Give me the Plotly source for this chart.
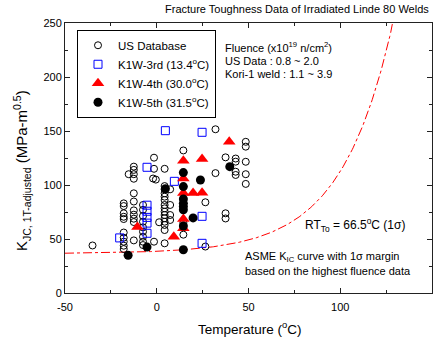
import numpy as np
import plotly.graph_objects as go

# ---- data ----
us_T = [-35,
        -18, -18, -18, -18, -18, -18, -18, -18, -18, -18,
        -15.3,
        -12.5, -12.5, -12.5, -12.5, -12.5, -12.5, -12.5, -12.5, -12.5, -12.5, -12.5,
        -7.5, -7.5, -7.5, -7.5, -7.5, -7.5, -7.5, -7.5, -7.5,
        -1.5, -1.5, -2, -0.5, -1.5, 1.3,
        4.3, 4.3, 4.3, 4.3, 4.3, 4.3, 4.3, 4.3, 4.3, 4.3, 4.3, 4.3, 4.3, 4.3, 4.3, 4.3,
        7.3, 7.3, 7.3, 7.3,
        14.5, 14.5, 14.5,
        26.5, 26.5,
        32, 32,
        37.5, 37.5, 37.5,
        43, 43, 43, 43,
        48.5, 48.5, 48.5, 48.5, 48.5]
us_K = [44,
        83, 80.5, 73.8, 70.6, 68.5, 56, 51.2, 47.5, 43.8, 40.7,
        110,
        117, 114, 110, 105.8, 92.3, 84.7, 76.5, 72.5, 68.8, 65.7, 48.7,
        81.5, 77, 71.3, 66, 60.8, 56.8, 52.1, 47.5, 44.4,
        125.3, 115, 106, 105, 47.5, 65.5,
        171, 115, 99, 96, 92.3, 89.2, 86.1, 81.5, 78.4, 75.3, 72.2, 69.2, 66, 63, 58.3, 46,
        96, 81.5, 72.2, 67.6,
        132, 65, 54,
        84, 43,
        151.6, 111,
        125.6, 73.8, 69,
        124.5, 121.6, 112.3, 109.3,
        140, 135.5, 121.5, 110, 101]

k3_T = [-20.2, -5.3, -5.3, -5.3, -5.3, -5.3, -5.3, 4.7, 9.6, 24.7, 24.7, 24.7]
k3_K = [51, 116.4, 81.3, 75.7, 70, 64.7, 55.3, 150.3, 103.4, 148.8, 71, 46]

k4_T = [-10.5, 9.3, 14.5, 14.5, 14.5, 14.5, 14.5, 19.8, 24.7, 24.7, 39.5]
k4_K = [61, 52, 122.5, 106, 92.5, 68.5, 60, 92.5, 92.9, 124, 140]

k5_T = [-15.6, -5.3, 4.7, 14.5, 14.5, 14.5, 14.5, 14.5, 14.5, 14.5, 14.5, 19.8, 23.8, 39.8]
k5_K = [35, 42.5, 96.5, 111.5, 98.5, 87, 83, 80, 77, 62, 40, 69.5, 104.6, 117]

# ASME K_Ic curve indexed to RT_To
RT_TO = 66.5
curve_T = np.linspace(-50, 150, 401)
curve_K = 36.5 + 22.783 * np.exp(0.036 * (curve_T - RT_TO))

x_ticks = [-50, 0, 50, 100, 150]
y_ticks = [0, 50, 100, 150, 200, 250]

FONT = "Liberation Sans, Arial, sans-serif"

fig = go.Figure()
fig.add_trace(go.Scatter(x=curve_T, y=curve_K, mode="lines",
                         line=dict(color="red", width=1, dash="dashdot"),
                         showlegend=False, hoverinfo="skip"))
fig.add_trace(go.Scatter(x=us_T, y=us_K, mode="markers", name="US Database",
                         marker=dict(symbol="circle-open", size=7, color="black",
                                     line=dict(width=1, color="black"))))
fig.add_trace(go.Scatter(x=k3_T, y=k3_K, mode="markers", name="K1W-3rd (13.4<sup>o</sup>C)",
                         marker=dict(symbol="square-open", size=8, color="blue",
                                     line=dict(width=1, color="blue"))))
fig.add_trace(go.Scatter(x=k4_T, y=k4_K, mode="markers", name="K1W-4th (30.0<sup>o</sup>C)",
                         marker=dict(symbol="triangle-up", size=11, color="red")))
fig.add_trace(go.Scatter(x=k5_T, y=k5_K, mode="markers", name="K1W-5th (31.5<sup>o</sup>C)",
                         marker=dict(symbol="circle", size=9, color="black")))

axis_common = dict(showgrid=False, zeroline=False, showline=True, linecolor="#222",
                   linewidth=1, mirror="allticks", ticks="inside", ticklen=5,
                   automargin=False,
                   tickcolor="#222", tickfont=dict(family=FONT, size=11, color="black"))

fig.update_xaxes(range=[-50, 150], tickvals=x_ticks, ticktext=[str(v) for v in x_ticks],
                 minor=dict(dtick=25, ticks="inside", ticklen=3, tickcolor="#222"),
                 ticklabelstandoff=4,
                 **axis_common)
fig.update_yaxes(range=[0, 250], tickvals=y_ticks, ticktext=[str(v) for v in y_ticks],
                 minor=dict(dtick=25, ticks="inside", ticklen=3, tickcolor="#222"),
                 **axis_common)

ann = []
def add(text, x, y, size, xanchor="left", yanchor="middle", angle=0):
    ann.append(dict(text=text, x=x, y=y, xref="paper", yref="paper", showarrow=False,
                    xanchor=xanchor, yanchor=yanchor, textangle=angle,
                    font=dict(family=FONT, size=size, color="black")))

add("Fracture Toughness Data of Irradiated Linde 80 Welds", 0.997, 1.052, 11, xanchor="right")
add("Fluence (x10<sup>19</sup> n/cm<sup>2</sup>)", 0.4297, 0.911, 11)
add("US Data : 0.8 ~ 2.0", 0.4297, 0.859, 11)
add("Kori-1 weld : 1.1 ~ 3.9", 0.4297, 0.811, 11)
add("RT<sub>To</sub> = 66.5<sup>o</sup>C (1σ)", 0.6477, 0.252, 12)
add("ASME K<sub>IC</sub> curve with 1σ margin", 0.4858, 0.134, 11)
add("based on the highest fluence data", 0.4858, 0.083, 11)
add("Temperature (<sup>o</sup>C)", 0.504, -0.13, 13.5, xanchor="center")
add("K<sub>JC, 1T-adjusted</sub> (MPa-m<sup>0.5</sup>)", -0.117, 0.452, 15,
    xanchor="center", angle=-90)

fig.update_layout(
    width=440, height=342,
    margin=dict(l=65, r=8, t=23, b=49),
    paper_bgcolor="white", plot_bgcolor="white",
    font=dict(family=FONT, size=11, color="black"),
    annotations=ann,
    legend=dict(x=0.0327, y=0.975, xanchor="left", yanchor="top",
                bordercolor="black", borderwidth=1, bgcolor="white",
                font=dict(family=FONT, size=11.5, color="black"),
                tracegroupgap=0, itemwidth=30),
)

fig.write_html("out.html", config={"displayModeBar": False},
               post_script="document.body.style.margin='0';document.body.style.overflow='hidden';")
